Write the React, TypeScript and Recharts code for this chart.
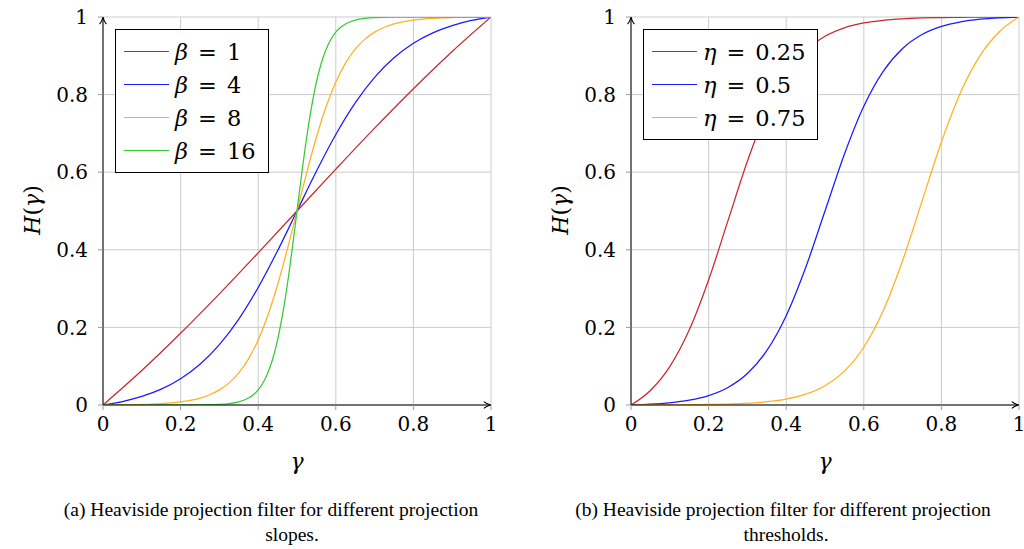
import React from "react";
import { LineChart, Line, XAxis, YAxis, CartesianGrid, Legend } from "recharts";

// ---- data ----
const xTicks = [0, 0.2, 0.4, 0.6, 0.8, 1];
const yTicks = [0, 0.2, 0.4, 0.6, 0.8, 1];

const gammaTenth = [0, 0.1, 0.2, 0.3, 0.4, 0.5, 0.6, 0.7, 0.8, 0.9, 1];
const gammaTwentieth = [0, 0.05, 0.1, 0.15, 0.2, 0.25, 0.3, 0.35, 0.4, 0.45, 0.5, 0.55, 0.6, 0.65, 0.7, 0.75, 0.8, 0.85, 0.9, 0.95, 1];
const gammaFortieth = [0, 0.025, 0.05, 0.075, 0.1, 0.125, 0.15, 0.175, 0.2, 0.225, 0.25, 0.275, 0.3, 0.325, 0.35, 0.375, 0.4, 0.425, 0.45, 0.475, 0.5, 0.525, 0.55, 0.575, 0.6, 0.625, 0.65, 0.675, 0.7, 0.725, 0.75, 0.775, 0.8, 0.825, 0.85, 0.875, 0.9, 0.925, 0.95, 0.975, 1];
const gammaSteep = [0, 0.1, 0.2, 0.25, 0.3, 0.325, 0.35, 0.375, 0.3875, 0.4, 0.4125, 0.425, 0.4375, 0.45, 0.4625, 0.475, 0.4875, 0.5, 0.5125, 0.525, 0.5375, 0.55, 0.5625, 0.575, 0.5875, 0.6, 0.6125, 0.625, 0.65, 0.675, 0.7, 0.75, 0.8, 0.9, 1];

const beta1 = [0, 0.0889, 0.1848, 0.2864, 0.3922, 0.5, 0.6078, 0.7136, 0.8152, 0.9111, 1];
const beta4 = [0, 0.0089, 0.022, 0.0408, 0.0676, 0.105, 0.1556, 0.2215, 0.3029, 0.3976, 0.5, 0.6024, 0.6971, 0.7785, 0.8444, 0.895, 0.9324, 0.9592, 0.978, 0.9911, 1];
const beta8 = [0, 0.0002, 0.0004, 0.0008, 0.0013, 0.0021, 0.0034, 0.0052, 0.0078, 0.0118, 0.0177, 0.0263, 0.0389, 0.057, 0.0829, 0.119, 0.1678, 0.2313, 0.3099, 0.4012, 0.5, 0.5988, 0.6901, 0.7687, 0.8322, 0.881, 0.9171, 0.943, 0.9611, 0.9737, 0.9823, 0.9882, 0.9922, 0.9948, 0.9966, 0.9979, 0.9987, 0.9992, 0.9996, 0.9998, 1];
const beta16 = [0, 0, 0.0001, 0.0003, 0.0017, 0.0037, 0.0082, 0.018, 0.0266, 0.0392, 0.0573, 0.0832, 0.1192, 0.168, 0.2315, 0.31, 0.4013, 0.5, 0.5987, 0.69, 0.7685, 0.832, 0.8808, 0.9168, 0.9427, 0.9608, 0.9734, 0.982, 0.9918, 0.9963, 0.9983, 0.9997, 0.9999, 1, 1];

const eta025 = [0, 0.0375, 0.0991, 0.1932, 0.3222, 0.4752, 0.6281, 0.7571, 0.8512, 0.9128, 0.9503, 0.9722, 0.9846, 0.9916, 0.9954, 0.9975, 0.9987, 0.9993, 0.9997, 0.9999, 1];
const eta050 = [0, 0.002, 0.0057, 0.0124, 0.0242, 0.0452, 0.0811, 0.1401, 0.2301, 0.3536, 0.5, 0.6464, 0.7699, 0.8599, 0.9189, 0.9548, 0.9758, 0.9876, 0.9943, 0.998, 1];
const eta075 = [0, 0.0001, 0.0003, 0.0007, 0.0013, 0.0025, 0.0046, 0.0084, 0.0154, 0.0278, 0.0497, 0.0872, 0.1488, 0.2429, 0.3719, 0.5248, 0.6778, 0.8068, 0.9009, 0.9625, 1];

const leftSymbol = "β";
const leftValues = ["1", "4", "8", "16"];
const rightSymbol = "η";
const rightValues = ["0.25", "0.5", "0.75"];
const captionA = ["(a) Heaviside projection filter for different projection", "slopes."];
const captionB = ["(b) Heaviside projection filter for different projection", "thresholds."];

const RED = "#c8282d";
const BLUE = "#1a1aff";
const ORANGE = "#ffb020";
const GREEN = "#33cc33";

const zip = (xs: number[], ys: number[]) => xs.map((x, i) => ({ x, y: ys[i] }));

const leftSeries = [
  { sym: leftSymbol, val: leftValues[0], color: RED, data: zip(gammaTenth, beta1) },
  { sym: leftSymbol, val: leftValues[1], color: BLUE, data: zip(gammaTwentieth, beta4) },
  { sym: leftSymbol, val: leftValues[2], color: ORANGE, data: zip(gammaFortieth, beta8) },
  { sym: leftSymbol, val: leftValues[3], color: GREEN, data: zip(gammaSteep, beta16) },
];
const rightSeries = [
  { sym: rightSymbol, val: rightValues[0], color: RED, data: zip(gammaTwentieth, eta025) },
  { sym: rightSymbol, val: rightValues[1], color: BLUE, data: zip(gammaTwentieth, eta050) },
  { sym: rightSymbol, val: rightValues[2], color: ORANGE, data: zip(gammaTwentieth, eta075) },
];

const MATH = "'DejaVu Serif', serif";

const LegendBox = ({ items }: { items: any[] }) => (
  <div
    style={{
      border: "1px solid #000",
      background: "#fff",
      padding: "5px 12px 5px 8px",
      fontFamily: MATH,
      fontSize: 22.5,
      color: "#000",
      boxSizing: "border-box",
    }}
  >
    {items.map((e: any, i: number) => (
      <div key={i} style={{ height: 33, display: "flex", alignItems: "center", whiteSpace: "nowrap" }}>
        <span style={{ display: "inline-block", width: 45, height: 1.5, background: e.color, marginRight: 6 }} />
        <span style={{ fontStyle: "italic" }}>{e.sym}</span>
        <span style={{ margin: "0 10px" }}>=</span>
        <span>{e.val}</span>
      </div>
    ))}
  </div>
);

const tickStyle = { fill: "#000", fontSize: 20, fontFamily: MATH };

function Panel({ series, width }: { series: any[]; width: number }) {
  return (
    <LineChart width={width} height={480} margin={{ top: 17, right: width - 491, bottom: 15, left: 43 }}>
      <CartesianGrid stroke="#cccccc" strokeWidth={1} />
      <XAxis
        type="number"
        dataKey="x"
        domain={[0, 1]}
        ticks={xTicks}
        allowDataOverflow
        height={60}
        tick={tickStyle}
        tickSize={5}
        tickMargin={7}
        tickLine={{ stroke: "#999" }}
        axisLine={{ stroke: "#000", strokeWidth: 1, markerEnd: "url(#axisArrow)" } as any}
      />
      <YAxis
        type="number"
        domain={[0, 1]}
        ticks={yTicks}
        allowDataOverflow
        width={60}
        tick={tickStyle}
        tickSize={5}
        tickMargin={10}
        tickLine={{ stroke: "#999" }}
        axisLine={{ stroke: "#000", strokeWidth: 1, markerStart: "url(#axisArrow)" } as any}
      />
      {series.map((s) => (
        <Line
          key={s.sym + s.val}
          data={s.data}
          dataKey="y"
          name={`${s.sym} = ${s.val}`}
          type="monotone"
          stroke={s.color}
          strokeWidth={1.25}
          dot={false}
          activeDot={false}
          isAnimationActive={false}
        />
      ))}
      <Legend
        layout="horizontal"
        verticalAlign="middle"
        align="center"
        content={() => <LegendBox items={series} />}
        wrapperStyle={{ position: "absolute", left: 115, top: 29, width: "auto", height: "auto" }}
      />
    </LineChart>
  );
}

const abs = (left: number, top: number): React.CSSProperties => ({ position: "absolute", left, top });

function AxisTitles({ offset }: { offset: number }) {
  return (
    <>
      <div
        style={{
          ...abs(offset + 297 - 20, 447),
          width: 40,
          textAlign: "center",
          fontFamily: MATH,
          fontStyle: "italic",
          fontSize: 22,
          lineHeight: "30px",
        }}
      >
        γ
      </div>
      <div
        style={{
          ...abs(offset + 33 - 40, 210 - 15),
          width: 80,
          height: 30,
          textAlign: "center",
          fontFamily: MATH,
          fontSize: 22,
          lineHeight: "30px",
          transform: "rotate(-90deg)",
          whiteSpace: "nowrap",
        }}
      >
        <span style={{ fontStyle: "italic" }}>H</span>(<span style={{ fontStyle: "italic" }}>γ</span>)
      </div>
    </>
  );
}

function Caption({ lines, c1, c2 }: { lines: string[]; c1: number; c2: number }) {
  const st: React.CSSProperties = {
    fontFamily: "'Liberation Serif', 'Times New Roman', serif",
    fontSize: 19.5,
    lineHeight: "22px",
    whiteSpace: "nowrap",
    textAlign: "center",
    width: 520,
    color: "#000",
  };
  return (
    <>
      <div style={{ ...abs(c1 - 260, 499), ...st }}>{lines[0]}</div>
      <div style={{ ...abs(c2 - 260, 524), ...st }}>{lines[1]}</div>
    </>
  );
}

export default function App() {
  return (
    <div style={{ position: "absolute", left: 0, top: 0, width: 1024, height: 549, background: "#fff", overflow: "hidden" }}>
      <svg width={0} height={0} style={{ position: "absolute" }}>
        <defs>
          <marker
            id="axisArrow"
            viewBox="0 0 10 10"
            refX={9.5}
            refY={5}
            markerWidth={9}
            markerHeight={9}
            markerUnits="userSpaceOnUse"
            orient="auto-start-reverse"
          >
            <path d="M1.5,1.2 Q5,4.2 9.5,5 Q5,5.8 1.5,8.8" fill="none" stroke="#000" strokeWidth={1.3} />
          </marker>
        </defs>
      </svg>
      <div style={abs(0, 0)}>
        <Panel series={leftSeries} width={520} />
      </div>
      <div style={abs(528, 0)}>
        <Panel series={rightSeries} width={496} />
      </div>
      <AxisTitles offset={0} />
      <AxisTitles offset={528} />
      <Caption lines={captionA} c1={271} c2={292} />
      <Caption lines={captionB} c1={783} c2={786} />
    </div>
  );
}
